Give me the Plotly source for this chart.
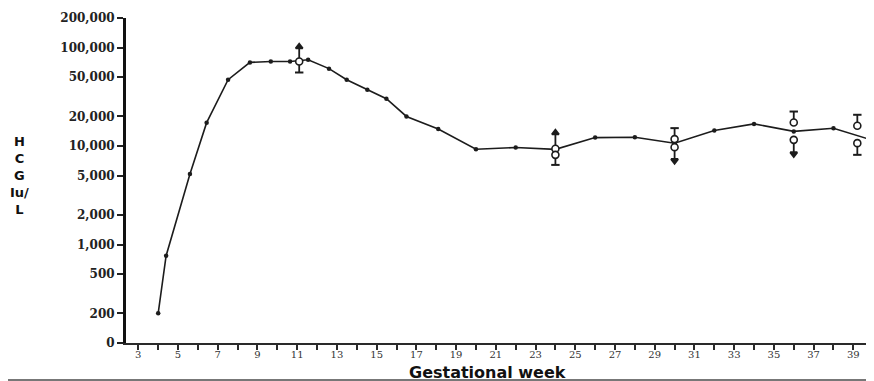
import plotly.graph_objects as go

# ---- data ----
weeks = [4, 4.4, 5.6, 6.44, 7.52, 8.62, 9.67, 10.64, 11.55, 12.6, 13.49, 14.53,
         15.49, 16.5, 18.1, 20, 22, 24, 26, 28, 30, 32, 34, 36, 38, 40]
hcg = [200, 770, 5200, 17300, 47200, 70800, 72400, 72400, 75300, 61200, 47200, 37400,
       30300, 20000, 14900, 9300, 9660, 9270, 12200, 12300, 10700, 14400, 16800, 14100,
       15200, 11400]

circle_weeks = [11.1, 24, 24, 30, 30, 36, 36, 39.2, 39.2]
circle_vals = [72400, 9390, 8150, 11770, 9750, 17350, 11570, 16070, 10710]

arrow_weeks = [11.1, 11.1, 24, 24, 30, 30, 36, 36, 39.2, 39.2]
arrow_from = [72400, 72400, 9390, 8150, 11770, 9750, 17350, 11570, 16070, 10710]
arrow_to = [102000, 55900, 13640, 6440, 15220, 7130, 22440, 8340, 20800, 8150]

y_tick_vals = [100, 200, 500, 1000, 2000, 5000, 10000, 20000, 50000, 100000, 200000]
y_tick_text = ["0", "200", "500", "1,000", "2,000", "5,000", "10,000", "20,000",
               "50,000", "100,000", "200,000"]

x_title = "Gestational week"
y_title = "H<br>C<br>G<br>Iu/<br>L"

# ---- styles ----
tip_symbols = ["triangle-up", "line-ew", "triangle-up", "line-ew", "line-ew",
               "triangle-down", "line-ew", "triangle-down", "line-ew", "line-ew"]
ink = "#1c1c1c"

# the page body has an 8px margin, so the figure is sized to fill the rest
W, H = 866, 373
L, R, T, B = 118, 0, 10, 38
PW, PH = W - L - R, H - T - B

fig = go.Figure()

# main curve
fig.add_trace(go.Scatter(
    x=weeks, y=hcg, mode="lines+markers",
    line=dict(color=ink, width=1.6),
    marker=dict(color=ink, size=4.5),
    cliponaxis=False, showlegend=False, hoverinfo="x+y"))

# arrow stems
sx, sy = [], []
for w, a, b in zip(arrow_weeks, arrow_from, arrow_to):
    sx += [w, w, None]
    sy += [a, b, None]
fig.add_trace(go.Scatter(x=sx, y=sy, mode="lines",
                         line=dict(color=ink, width=1.8),
                         showlegend=False, hoverinfo="skip"))

# arrow tips
fig.add_trace(go.Scatter(
    x=arrow_weeks, y=arrow_to, mode="markers",
    marker=dict(symbol=tip_symbols, size=6, color=ink,
                line=dict(color=ink, width=2)),
    showlegend=False, hoverinfo="skip"))

# open circles
fig.add_trace(go.Scatter(
    x=circle_weeks, y=circle_vals, mode="markers",
    marker=dict(symbol="circle", size=7, color="white",
                line=dict(color=ink, width=1.6)),
    showlegend=False, hoverinfo="x+y"))

fig.update_layout(
    width=W, height=H,
    margin=dict(l=L, r=R, t=T, b=B, autoexpand=False),
    paper_bgcolor="white", plot_bgcolor="white",
    showlegend=False,
    xaxis=dict(
        range=[2.38, 40.04], tick0=3, dtick=2,
        showgrid=False, zeroline=False,
        showline=True, linecolor="#2a2a2a", linewidth=2,
        ticks="outside", ticklen=5, tickwidth=2, tickcolor="#2a2a2a",
        minor=dict(dtick=1, tick0=3, ticks="outside", ticklen=5, tickwidth=2,
                   tickcolor="#2a2a2a", showgrid=False),
        tickfont=dict(family="DejaVu Serif", size=10, color="#333333"),
        ticklabelstandoff=-4,
        automargin=False),
    yaxis=dict(
        type="log", range=[2.0, 5.301],
        tickvals=y_tick_vals, ticktext=y_tick_text,
        showgrid=False, zeroline=False,
        showline=True, linecolor="#111111", linewidth=3,
        ticks="outside", ticklen=6, tickwidth=1.5, tickcolor="#222222",
        tickfont=dict(family="DejaVu Serif", size=12, color="#222222", weight="bold"),
        automargin=False),
    font=dict(family="DejaVu Sans", color="#111111"),
)

fig.add_annotation(text=x_title, xref="paper", yref="paper",
                   x=(487 - 8 - L) / PW, y=-(372 - 8 - T - PH) / PH,
                   xanchor="center", yanchor="middle",
                   showarrow=False,
                   font=dict(family="DejaVu Sans", size=16, color="#111111",
                             weight="bold"))
fig.add_annotation(text=y_title, xref="paper", yref="paper",
                   x=(19 - 8 - L) / PW, y=(T + PH - (175 - 8)) / PH,
                   xanchor="center", yanchor="middle",
                   showarrow=False, align="center",
                   font=dict(family="DejaVu Sans", size=13, color="#111111",
                             weight="bold"))

# thin rule at the very bottom of the picture
fig.add_shape(type="line", xref="paper", yref="paper",
              x0=-(L + 8) / PW, x1=1, y0=-(380 - 8 - T - PH) / PH,
              y1=-(380 - 8 - T - PH) / PH,
              line=dict(color="#777777", width=2))

fig.write_html("out.html")
